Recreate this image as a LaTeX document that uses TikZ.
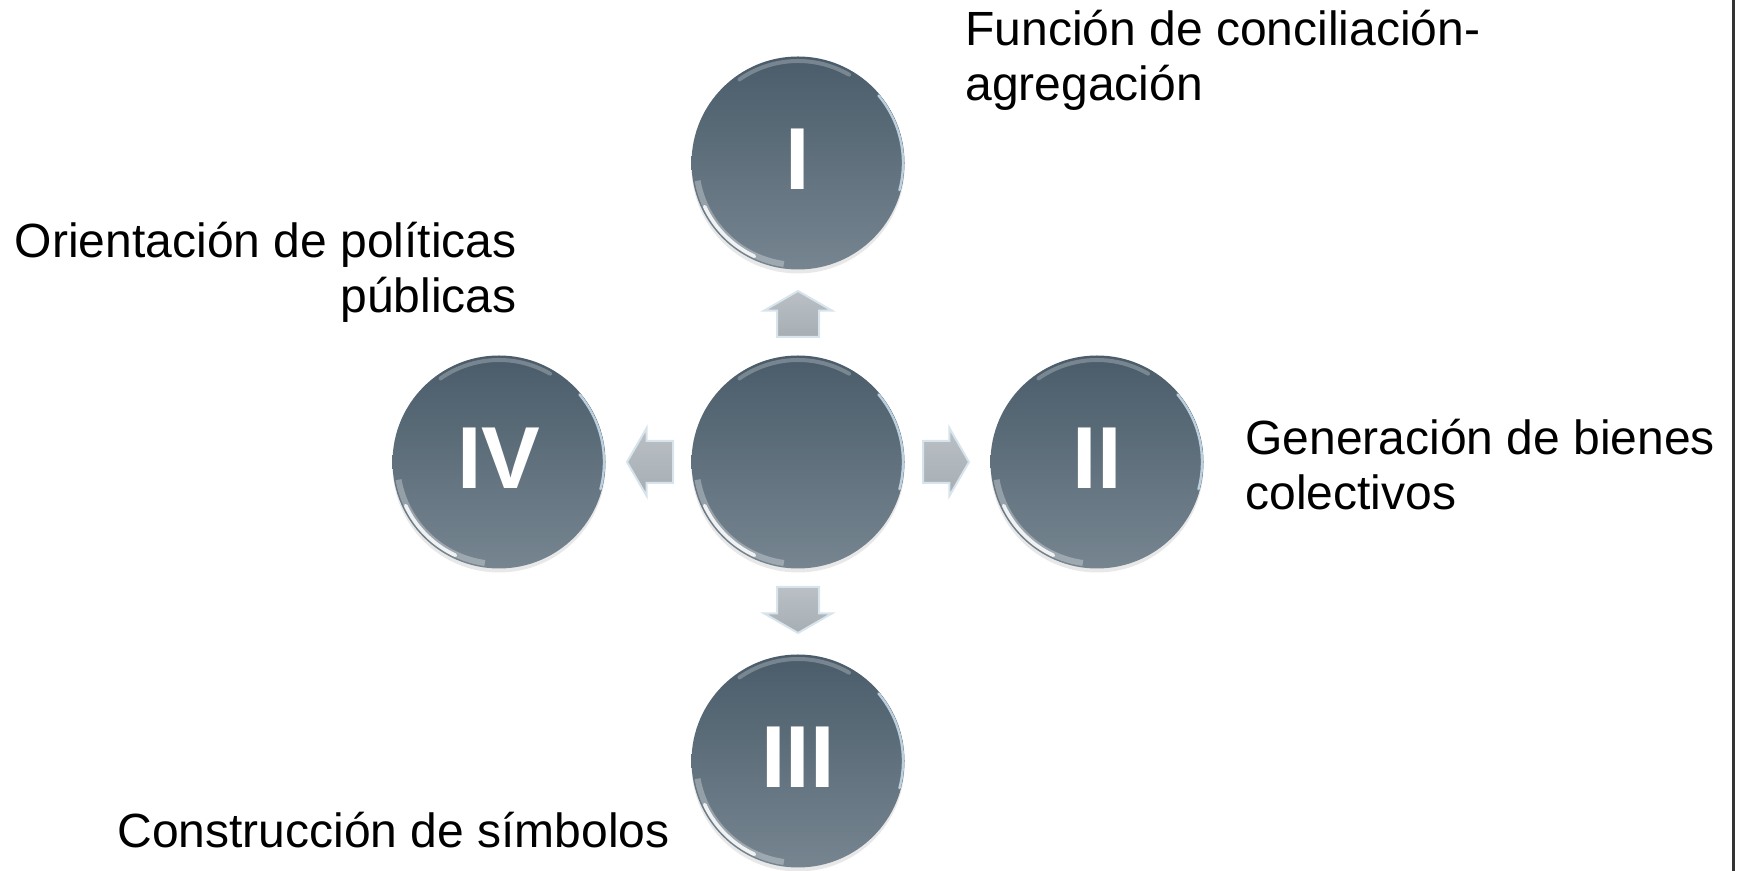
\documentclass[tikz,border=0pt]{standalone}
\usepackage{fontspec}
\setmainfont{Liberation Sans}
\usetikzlibrary{shapes.arrows,shadows,calc}
\definecolor{slatetop}{RGB}{74,92,106}
\definecolor{slatebot}{RGB}{118,133,144}
\definecolor{arrowtop}{RGB}{186,192,197}
\definecolor{arrowbot}{RGB}{166,174,180}
\definecolor{arrowrim}{RGB}{216,228,236}
\definecolor{rimblue}{RGB}{205,225,240}
\begin{document}
\begin{tikzpicture}[x=0.5pt,y=0.5pt,
	bubble/.style={circle,minimum size=106.5pt,inner sep=0pt,text depth=4pt,
		top color=slatetop,bottom color=slatebot,text=white,
		font=\fontsize{44}{50}\selectfont\bfseries,
		drop shadow={shadow xshift=0pt,shadow yshift=-2pt,opacity=.18},
		path picture={
			\coordinate (pc) at (path picture bounding box.center);
			\draw[white,opacity=.3,line width=3pt] ($(pc)+(190:102)$) arc[start angle=190,end angle=262,radius=102];
			\draw[white,opacity=.85,line width=1.8pt,line cap=round] ($(pc)+(205:103)$) arc[start angle=205,end angle=245,radius=103];
			\draw[rimblue,opacity=.85,line width=1.2pt,line cap=round] ($(pc)+(40:105)$) arc[start angle=40,end angle=-15,radius=105];
			\draw[white,opacity=.25,line width=2pt,line cap=round] ($(pc)+(60:102)$) arc[start angle=60,end angle=125,radius=102];
		}},
	blockarrow/.style={single arrow,minimum height=23pt,inner xsep=0pt,inner ysep=10pt,
		single arrow head extend=6.5pt,single arrow tip angle=120,anchor=tail,
		top color=arrowtop,bottom color=arrowbot,draw=arrowrim,line width=1pt},
	lbl/.style={font=\fontsize{24}{27.5}\selectfont,inner sep=0pt}]
	\useasboundingbox (0,0) rectangle (1739,871);
	\node[bubble] (0) at (798,409) {};
	\node[bubble] (1) at (798,708) {I};
	\node[bubble] (2) at (1097,409) {II};
	\node[bubble] (3) at (798,110) {III};
	\node[bubble] (4) at (499,409) {IV};
	\node[blockarrow,rotate=90] (a1) at ($(0)!62pt!(1)$) {};
	\node[blockarrow] (a2) at ($(0)!62pt!(2)$) {};
	\node[blockarrow,rotate=-90] (a3) at ($(0)!62pt!(3)$) {};
	\node[blockarrow,rotate=180] (a4) at ($(0)!62pt!(4)$) {};
	\node[lbl,anchor=base west,align=left] (t1) at (965,770) {Función de conciliación-\\agregación};
	\node[lbl,anchor=base west,align=left] (t2) at (1245,361) {Generación de bienes\\colectivos};
	\node[lbl,anchor=base west,align=left] (t3) at (117,23) {Construcción de símbolos};
	\node[lbl,anchor=base east,align=right] (t4) at (517,558) {Orientación de políticas\\públicas};
	\draw[black!80,line width=1.5pt] (1733,0) -- (1733,871);
\end{tikzpicture}
\end{document}
